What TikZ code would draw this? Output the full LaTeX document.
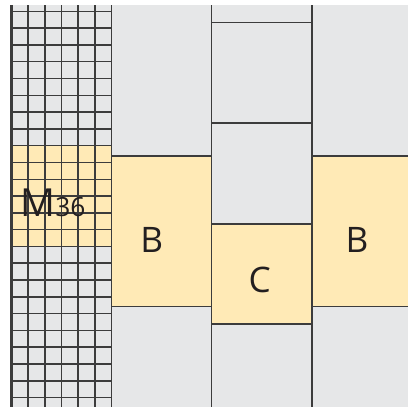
\documentclass[tikz,border=0pt]{standalone}
\usepackage{fontspec}
\setmainfont{Open Sans}

\definecolor{panelgray}{HTML}{E6E7E8}
\definecolor{blockyellow}{HTML}{FFEAB6}
\definecolor{edgegray}{HTML}{3C3C3C}
\definecolor{inkdark}{HTML}{231F20}

\tikzset{
  wall/.style={draw=edgegray,line width=0.45pt},
  label/.style={text=inkdark,inner sep=0pt,font=\fontsize{10}{12}\selectfont}
}

\begin{document}
\begin{tikzpicture}
\useasboundingbox (0,0) rectangle (4.09,4.07);
% Background panel
\fill[panelgray] (0.115,0) rectangle (4.085,4.02);

% Fine mesh column, with the yellow M36 patch
\fill[blockyellow] (0.115,1.603) rectangle (1.115,2.613);
\foreach \k in {-8,...,15}
  \draw[wall] (0.115,{2.613-\k*0.168}) -- (1.115,{2.613-\k*0.168});
\foreach \j in {1,...,5}
  \draw[wall] ({0.115+\j/6},0) -- ({0.115+\j/6},4.02);

% Coarse blocks
\fill[blockyellow] (1.115,1.003) rectangle (2.117,2.51);
\fill[blockyellow] (2.117,0.83) rectangle (3.12,1.83);
\fill[blockyellow] (3.12,1.003) rectangle (4.085,2.51);

\draw[wall] (1.115,2.51) -- (2.117,2.51);
\draw[wall] (1.115,1.003) -- (2.117,1.003);
\draw[wall] (2.117,3.847) -- (3.12,3.847);
\draw[wall] (2.117,2.84) -- (3.12,2.84);
\draw[wall] (2.117,1.83) -- (3.12,1.83);
\draw[wall] (2.117,0.83) -- (3.12,0.83);
\draw[wall] (3.12,2.51) -- (4.085,2.51);
\draw[wall] (3.12,1.003) -- (4.085,1.003);

% Column borders
\draw[wall,line width=0.6pt] (0.115,0) -- (0.115,4.02);
\draw[wall] (1.115,0) -- (1.115,4.02);
\draw[wall] (2.117,0) -- (2.117,4.02);
\draw[wall] (3.12,0) -- (3.12,4.02);

% Labels
\node[label,font=\fontsize{11}{13}\selectfont] (mesh) at (0.53,2.04) {M{\fontsize{7.5}{9}\selectfont 36}};
\node[label] (bleft) at (1.517,1.67) {B};
\node[label] (cmid) at (2.597,1.27) {C};
\node[label] (bright) at (3.57,1.67) {B};
\end{tikzpicture}
\end{document}
